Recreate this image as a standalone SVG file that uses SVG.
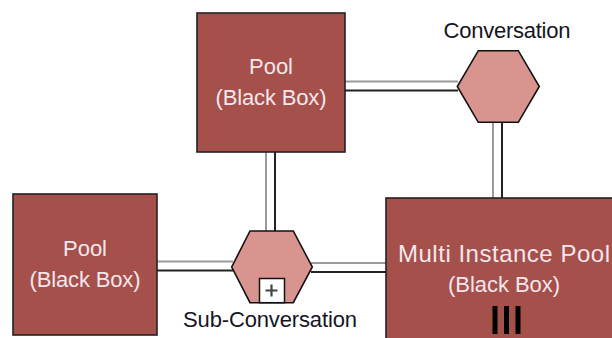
<svg xmlns="http://www.w3.org/2000/svg" width="612" height="338" viewBox="0 0 612 338">
<style>
.pool{fill:#a5504a;stroke:#222;stroke-width:1.6}
.hex{fill:#d9948f;stroke:#111;stroke-width:1.6;stroke-linejoin:miter}
.pt{font-family:"Liberation Sans",Arial,sans-serif;font-size:22px;fill:#f4e6ee;text-anchor:middle}
.big{font-size:24px}
.lbl{font-family:"Liberation Sans",Arial,sans-serif;font-size:22px;fill:#15151f;text-anchor:middle}
.lt{stroke:#9a9a9a;stroke-width:2;fill:none}
.dk{stroke:#222;stroke-width:2;fill:none}
</style>
<rect width="612" height="338" fill="#fff"/>
<g id="connectors">
  <line class="lt" x1="345" y1="81.5" x2="458" y2="81.5"/>
  <line class="dk" x1="345" y1="90.5" x2="458" y2="90.5"/>
  <line class="lt" x1="493" y1="122" x2="493" y2="198"/>
  <line class="dk" x1="502" y1="122" x2="502" y2="198"/>
  <line class="lt" x1="266" y1="152" x2="266" y2="231"/>
  <line class="dk" x1="275" y1="152" x2="275" y2="231"/>
  <line class="lt" x1="157" y1="261.5" x2="233" y2="261.5"/>
  <line class="dk" x1="157" y1="270.5" x2="233" y2="270.5"/>
  <line class="lt" x1="311" y1="263" x2="386" y2="263"/>
  <line class="dk" x1="311" y1="272" x2="386" y2="272"/>
</g>
<g id="pool-top">
  <rect class="pool" x="197" y="13" width="148" height="139"/>
  <text class="pt" x="271" y="74">Pool</text>
  <text class="pt" x="271" y="105" textLength="111">(Black Box)</text>
</g>
<g id="pool-left">
  <rect class="pool" x="13" y="194" width="144" height="141"/>
  <text class="pt" x="85" y="256">Pool</text>
  <text class="pt" x="85" y="287" textLength="111">(Black Box)</text>
</g>
<g id="pool-multi">
  <rect class="pool" x="386" y="198" width="240" height="150"/>
  <text class="pt big" x="504" y="262" textLength="212">Multi Instance Pool</text>
  <text class="pt" x="504" y="292" textLength="112">(Black Box)</text>
  <rect x="492.5" y="306" width="5" height="28" fill="#000"/>
  <rect x="504" y="306" width="5" height="28" fill="#000"/>
  <rect x="515.5" y="306" width="5" height="28" fill="#000"/>
</g>
<g id="conversation">
  <polygon class="hex" points="478.3,50.7 518.3,50.7 539.3,86.5 518.3,122.3 478.3,122.3 457.3,86.5"/>
  <text class="lbl" x="507" y="38" textLength="127">Conversation</text>
</g>
<g id="sub-conversation">
  <polygon class="hex" points="250,231 293.3,231 312.3,267 293.3,302.7 250,302.7 231.7,267"/>
  <rect x="259.5" y="278.5" width="25" height="24.2" fill="#fff" stroke="#111" stroke-width="1.5"/>
  <path d="M265.5 290.5h12M271.5 284.5v12" stroke="#444" stroke-width="2.2"/>
  <text class="lbl" x="270" y="327" textLength="174">Sub-Conversation</text>
</g>
</svg>
